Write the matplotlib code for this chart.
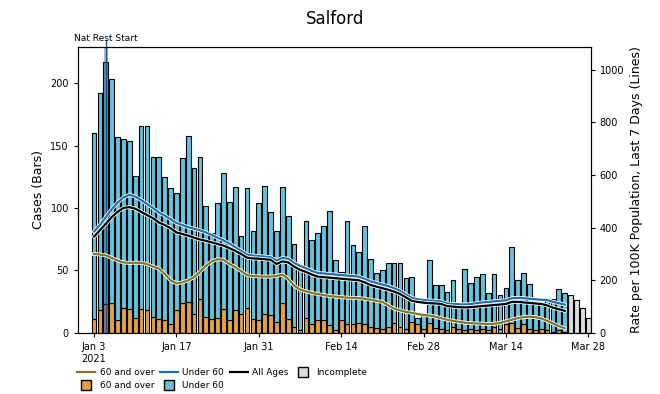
import matplotlib
matplotlib.use('Agg')
import matplotlib.pyplot as plt
import matplotlib.patheffects as pe
from matplotlib.lines import Line2D
import pandas as pd

# daily cases, Jan 3 2021 onwards
over60 = [11, 18, 23, 24, 10, 20, 19, 12, 19, 18, 13, 11, 10, 7, 18, 24, 25, 15, 27, 13,
          11, 12, 19, 10, 18, 15, 20, 11, 10, 15, 14, 9, 24, 11, 5, 2, 12, 7, 10, 10,
          6, 2, 10, 7, 7, 8, 7, 5, 4, 3, 5, 8, 5, 3, 9, 7, 3, 8, 4, 3,
          2, 5, 3, 2, 3, 2, 3, 2, 5, 3, 7, 8, 4, 7, 3, 2, 3, 2, 1, 2, 1]
total = [160, 192, 217, 203, 157, 155, 154, 126, 166, 166, 141, 141, 125, 116, 112, 140, 158, 132, 141, 102,
         80, 104, 128, 105, 117, 78, 116, 82, 104, 118, 97, 82, 117, 94, 71, 50, 90, 74, 80, 86,
         98, 58, 49, 90, 70, 65, 86, 59, 48, 50, 56, 56, 56, 44, 45, 12, 14, 58, 38, 38,
         33, 42, 21, 51, 40, 45, 47, 32, 47, 30, 36, 69, 42, 48, 39, 25, 24, 26, 27, 35, 32]
incomplete = [30, 26, 20, 12]

# rate per 100k, last 7 days
rate_all = [366, 390, 415, 440, 460, 475, 478, 472, 460, 448, 436, 420, 410, 398, 382, 376, 370, 362, 355, 350,
            344, 338, 332, 322, 312, 300, 286, 283, 282, 280, 278, 262, 272, 268, 252, 240, 232, 222, 214, 212,
            210, 208, 206, 204, 202, 200, 192, 182, 176, 170, 164, 157, 148, 135, 122, 118, 115, 113, 112, 110,
            102, 100, 98, 97, 98, 100, 102, 104, 106, 108, 110, 118, 118, 116, 114, 112, 110, 105, 96, 90, 84]
rate_u60 = [385, 410, 440, 470, 495, 515, 525, 518, 505, 490, 475, 458, 446, 432, 418, 410, 402, 396, 390, 382,
            372, 362, 352, 340, 326, 312, 298, 294, 292, 290, 288, 275, 285, 282, 266, 255, 246, 236, 228, 226,
            224, 222, 220, 218, 216, 214, 206, 196, 190, 184, 178, 170, 160, 146, 133, 128, 125, 123, 122, 120,
            112, 110, 109, 108, 110, 113, 116, 118, 120, 122, 124, 132, 133, 132, 130, 128, 126, 125, 118, 113, 108]
rate_o60 = [300, 298, 295, 285, 275, 268, 266, 267, 266, 262, 252, 245, 225, 200, 188, 192, 200, 212, 232, 255,
            272, 280, 278, 262, 250, 235, 220, 216, 215, 214, 214, 216, 222, 205, 180, 165, 158, 152, 148, 144,
            140, 138, 136, 134, 133, 132, 130, 126, 122, 118, 105, 92, 86, 80, 76, 72, 68, 66, 62, 56,
            50, 46, 42, 39, 37, 36, 35, 34, 35, 38, 44, 50, 56, 60, 62, 60, 55, 46, 36, 26, 18]

under60 = [t - o for t, o in zip(total, over60)]
dates = pd.date_range('2021-01-03', periods=len(total))
inc_dates = pd.date_range(dates[-1] + pd.Timedelta(days=1), periods=len(incomplete))
lockdown = pd.Timestamp('2021-01-05')

c_old = '#e3a144'
c_young = '#63c3de'
c_inc = '#dcdcdc'
l_old = '#85752a'
l_young = '#1f6fb4'

fig = plt.figure(figsize=(6.6, 3.94), dpi=100)
ax = fig.add_axes([0.118, 0.155, 0.777, 0.726])
ax.bar(dates, over60, width=0.8, color=c_old, edgecolor='black', linewidth=0.8)
ax.bar(dates, under60, width=0.8, bottom=over60, color=c_young, edgecolor='black', linewidth=0.8)
ax.bar(inc_dates, incomplete, width=0.8, color=c_inc, edgecolor='black', linewidth=0.8)
ax.set_ylim(0, 229)
ax.set_xlim(pd.Timestamp('2020-12-31 06:00'), pd.Timestamp('2021-03-28 10:00'))
ax.set_ylabel('Cases (Bars)', fontsize=9)

# national restrictions marker
ax.axvspan(lockdown - pd.Timedelta(hours=9), lockdown + pd.Timedelta(hours=9), color='#1a3d7a', alpha=0.35, lw=0)
ax.axvline(lockdown, ymin=0, ymax=1.025, color='#2a4f8a', lw=1.0, clip_on=False)
ax.text(lockdown, 232, 'Nat Rest Start', fontsize=6.5, ha='center', va='bottom')

ticks = pd.date_range('2021-01-03', '2021-03-28', freq='14D')
ax.set_xticks(ticks)
ax.set_xticklabels(['Jan 3\n2021', 'Jan 17', 'Jan 31', 'Feb 14', 'Feb 28', 'Mar 14', 'Mar 28'])
ax.tick_params(labelsize=7, length=3)

ax2 = ax.twinx()
halo = [pe.withStroke(linewidth=2.8, foreground='white')]
ax2.plot(dates, rate_o60, color=l_old, lw=1.6, path_effects=halo)
ax2.plot(dates, rate_u60, color=l_young, lw=1.6, path_effects=halo)
ax2.plot(dates, rate_all, color='black', lw=1.6, path_effects=halo)
ax2.set_ylim(0, 1087)
ax2.set_ylabel('Rate per 100K Population, Last 7 Days (Lines)', fontsize=9)
ax2.tick_params(labelsize=7, length=3)

fig.suptitle('Salford', x=0.507, y=0.975, fontsize=12)

def box(c):
    return Line2D([], [], marker='s', linestyle='none', markersize=7,
                  markerfacecolor=c, markeredgecolor='black', markeredgewidth=1)

handles = [Line2D([], [], color=l_old, lw=1.6), box(c_old),
           Line2D([], [], color=l_young, lw=1.6), box(c_young),
           Line2D([], [], color='black', lw=1.6), box(c_inc)]
labels = ['60 and over', '60 and over', 'Under 60', 'Under 60', 'All Ages', 'Incomplete']
fig.legend(handles, labels, ncol=4, loc='lower left', bbox_to_anchor=(0.105, -0.01),
           frameon=False, fontsize=6.5, handlelength=2, columnspacing=0.6,
           handletextpad=0.5, labelspacing=0.4)

fig.savefig('out.png', dpi=100)
